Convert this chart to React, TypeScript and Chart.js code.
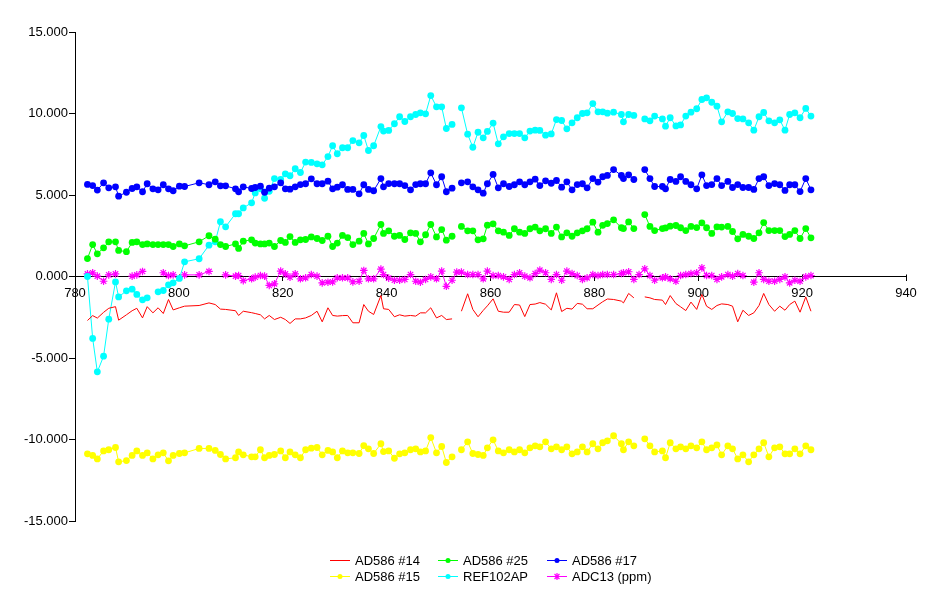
import React, { useEffect, useRef } from 'react';
import { Chart, registerables } from 'chart.js';

Chart.register(...registerables);

// Wavelength (x) positions shared by all series
const WAVELENGTH: number[] = [
  782.4, 783.4, 784.3, 785.5, 786.5, 787.8, 788.4, 789.9, 791.0, 791.9,
  793.0, 793.9, 795.0, 796.0, 797.0, 798.0, 798.9, 800.1, 801.1, 803.9,
  805.8, 807.0, 808.0, 809.0, 810.9, 811.5, 812.4, 814.0, 814.7, 815.7,
  816.5, 817.4, 818.4, 819.6, 820.5, 821.4, 822.4, 823.4, 824.4, 825.5,
  826.6, 827.6, 828.7, 829.6, 830.5, 831.5, 832.5, 833.5, 834.7, 835.6,
  836.5, 837.5, 838.9, 839.4, 840.4, 841.5, 842.5, 843.5, 844.6, 845.6,
  846.5, 847.5, 848.5, 849.6, 850.6, 851.5, 852.6, 853.5, 854.4, 855.6,
  856.6, 857.6, 858.6, 859.4, 860.5, 861.5, 862.5, 863.6, 864.6, 865.6,
  866.6, 867.6, 868.6, 869.5, 870.6, 871.7, 872.7, 873.7, 874.7, 875.7,
  876.7, 877.7, 878.6, 879.7, 880.7, 881.6, 882.5, 883.7, 885.2, 885.6,
  886.6, 887.6, 888.6, 889.7, 890.7, 891.6, 893.1, 893.7, 894.6, 895.7,
  896.6, 897.6, 898.6, 899.7, 900.7, 901.6, 902.6, 903.6, 904.5, 905.7,
  906.6, 907.6, 908.6, 909.7, 910.7, 911.7, 912.6, 913.6, 914.7, 915.7,
  916.7, 917.6, 918.6, 919.6, 920.7, 921.7,
];

const AD586_14: (number | null)[] = [
  -2.7, -2.4, -2.55, -2.2, -1.95, -1.85, -2.68, -2.35, -2.1, -1.95,
  -2.54, -1.85, -2.23, -1.92, -2.27, -1.41, -2.05, -1.92, -1.82, -1.78,
  -1.62, -1.72, -2.0, -2.02, -2.1, -2.39, -2.13, -2.22, -2.27, -2.35,
  -2.6, -2.39, -2.64, -2.5, -2.64, -2.88, -2.6, -2.6, -2.54, -2.39,
  -2.13, -2.78, -1.92, -2.39, -2.43, -2.4, -2.39, -2.84, -2.84, -1.72,
  -2.13, -2.33, -1.17, -1.98, -2.02, -2.47, -2.35, -2.43, -2.39, -2.43,
  -2.23, -2.23, -1.92, -2.54, -2.39, -2.64, -2.6, null, -2.13, -1.06,
  -2.02, -2.47, -2.08, -1.8, -1.37, -2.13, -2.19, -2.19, -1.72, -1.75,
  -2.46, -1.72, -1.69, -1.6, -1.7, -2.05, -1.0, -2.15, -1.95, -2.0,
  -1.65, -1.7, -1.98, -1.98, -1.75, -1.55, -1.38, -1.41, -1.51, -1.62,
  -1.04, -1.31, null, -1.25, -1.31, -1.41, -1.45, -1.72, -1.17, -1.66,
  -1.86, -2.09, -1.57, -2.02, -1.1, -1.82, -2.02, -1.78, -1.68, -1.72,
  -1.82, -2.78, -2.07, -2.39, -2.23, -1.78, -1.04, -1.72, -2.13, -1.82,
  -2.07, -1.72, -1.51, -2.19, -1.25, -2.13,
];

const AD586_25: (number | null)[] = [
  1.1, 1.96, 1.39, 1.76, 2.13, 2.13, 1.6, 1.52, 2.09, 2.13,
  1.96, 2.0, 1.96, 1.96, 1.96, 1.96, 1.84, 2.0, 1.88, 2.13,
  2.5, 2.29, 1.96, 1.84, 2.0, 1.72, 2.17, 2.25, 2.05, 2.0,
  2.0, 2.05, 1.84, 2.21, 2.09, 2.45, 2.09, 2.25, 2.27, 2.43,
  2.33, 2.21, 2.47, 1.84, 2.05, 2.52, 2.39, 1.96, 2.17, 2.64,
  2.0, 2.33, 3.19, 2.64, 2.8, 2.47, 2.52, 2.27, 2.68, 2.64,
  2.13, 2.56, 3.19, 2.43, 2.88, 2.23, 2.47, null, 3.07, 2.8,
  2.8, 2.25, 2.31, 3.15, 3.23, 2.8, 2.72, 2.52, 2.93, 2.72,
  2.64, 2.93, 3.03, 2.8, 2.93, 2.64, 3.03, 2.43, 2.68, 2.47,
  2.68, 2.8, 2.93, 3.33, 2.72, 3.14, 3.25, 3.48, 2.99, 2.94,
  3.35, 2.94, null, 3.8, 3.07, 2.82, 2.94, 2.98, 3.09, 3.13,
  2.99, 2.82, 3.07, 3.0, 3.29, 2.99, 2.64, 3.05, 3.03, 3.07,
  2.76, 2.31, 2.58, 2.47, 2.33, 2.68, 3.31, 2.82, 2.82, 2.82,
  2.45, 2.58, 2.82, 2.33, 2.94, 2.37,
];

const AD586_17: (number | null)[] = [
  5.65, 5.58, 5.3, 5.75, 5.44, 5.5, 4.93, 5.17, 5.4, 5.5,
  5.2, 5.69, 5.38, 5.32, 5.63, 5.38, 5.26, 5.54, 5.52, 5.75,
  5.63, 5.81, 5.56, 5.56, 5.38, 5.2, 5.5, 5.4, 5.46, 5.54,
  5.17, 5.42, 5.5, 5.75, 5.38, 5.36, 5.5, 5.64, 5.69, 5.99,
  5.69, 5.69, 5.85, 5.38, 5.48, 5.63, 5.34, 5.34, 5.07, 5.63,
  5.34, 5.26, 6.01, 5.5, 5.7, 5.69, 5.69, 5.58, 5.32, 5.64,
  5.69, 5.69, 6.36, 5.63, 6.12, 5.2, 5.42, null, 5.75, 5.81,
  5.5, 5.32, 5.11, 5.69, 6.26, 5.44, 5.69, 5.52, 5.63, 5.81,
  5.63, 5.81, 5.97, 5.58, 5.87, 5.72, 5.89, 5.48, 5.81, 5.32,
  5.64, 5.69, 5.44, 6.01, 5.79, 6.12, 6.2, 6.56, 6.2, 6.01,
  6.24, 5.95, null, 6.56, 6.01, 5.52, 5.52, 5.38, 5.95, 5.83,
  6.12, 5.83, 5.63, 5.38, 6.24, 5.58, 5.64, 6.01, 5.58, 5.83,
  5.46, 5.64, 5.46, 5.46, 5.34, 6.01, 6.12, 5.58, 5.7, 5.63,
  5.28, 5.63, 5.63, 5.21, 6.01, 5.32,
];

const AD586_15: (number | null)[] = [
  -10.88, -10.98, -11.19, -10.7, -10.63, -10.49, -11.37, -11.29, -10.98, -10.7,
  -10.98, -10.82, -11.19, -10.94, -10.82, -11.31, -10.98, -10.86, -10.82, -10.55,
  -10.55, -10.67, -10.92, -11.19, -11.12, -10.76, -10.94, -11.06, -11.06, -10.63,
  -11.12, -10.98, -10.92, -10.7, -11.12, -10.76, -10.94, -11.12, -10.63, -10.53,
  -10.49, -10.94, -10.67, -10.76, -11.12, -10.7, -10.82, -10.82, -10.86, -10.37,
  -10.57, -10.86, -10.26, -10.74, -10.7, -11.15, -10.88, -10.82, -10.63, -10.57,
  -10.76, -10.7, -9.88, -10.82, -10.43, -11.41, -11.06, null, -10.63, -10.14,
  -10.86, -10.92, -10.98, -10.51, -10.02, -10.7, -10.82, -10.63, -10.76, -10.63,
  -10.82, -10.51, -10.39, -10.45, -10.14, -10.57, -10.45, -10.63, -10.45, -10.88,
  -10.76, -10.45, -10.76, -10.26, -10.57, -10.2, -10.08, -9.77, -10.26, -10.63,
  -10.14, -10.39, null, -9.96, -10.39, -10.76, -10.7, -11.12, -10.2, -10.57,
  -10.45, -10.57, -10.39, -10.51, -10.14, -10.63, -10.51, -10.33, -10.94, -10.39,
  -10.57, -11.19, -10.94, -11.37, -10.94, -10.57, -10.2, -11.06, -10.51, -10.45,
  -10.88, -10.88, -10.57, -10.88, -10.39, -10.63,
];

const REF102AP: (number | null)[] = [
  0.0, -3.8, -5.85, -4.89, -2.62, -0.33, -1.25, -0.88, -0.78, -1.1,
  -1.43, -1.31, null, -0.94, -0.86, -0.51, -0.39, -0.12, 0.9, 1.09,
  1.92, 2.13, 3.36, 3.05, 3.85, 3.85, 4.21, 4.52, 5.13, 5.38,
  4.8, 5.23, 6.01, 5.95, 6.3, 6.18, 6.61, 6.38, 7.02, 7.0,
  6.91, 6.85, 7.36, 8.02, 7.53, 7.9, 7.9, 8.34, 8.2, 8.65,
  7.73, 8.02, 9.2, 8.92, 8.96, 9.37, 9.8, 9.51, 9.8, 9.94,
  10.04, 9.98, 11.1, 10.41, 10.41, 9.08, 9.33, null, 10.35, 8.73,
  7.93, 8.85, 8.51, 8.9, 9.41, 8.14, 8.57, 8.77, 8.77, 8.77,
  8.51, 8.92, 8.98, 8.96, 8.67, 8.75, 9.63, 9.57, 9.06, 9.43,
  9.74, 10.0, 10.04, 10.61, 10.1, 10.1, 10.02, 10.08, 9.94, 9.49,
  9.94, 9.88, null, 9.67, 9.55, 9.84, 9.67, 9.22, 9.74, 9.24,
  9.3, 9.84, 10.08, 10.29, 10.86, 10.96, 10.69, 10.45, 9.49, 10.1,
  10.0, 9.69, 9.67, 9.43, 8.98, 9.8, 10.06, 9.55, 9.43, 9.61,
  8.98, 9.94, 10.04, 9.74, 10.31, 9.84,
];

const ADC13_PPM: (number | null)[] = [
  0.16, 0.23, 0.02, -0.29, 0.1, 0.16, null, null, 0.02, 0.1,
  0.31, null, null, null, 0.23, 0.06, 0.1, null, 0.1, 0.1,
  0.31, null, null, 0.1, 0.02, 0.06, -0.25, -0.14, -0.04, 0.06,
  0.02, -0.55, -0.45, 0.33, 0.16, -0.04, 0.16, -0.14, -0.08, 0.12,
  0.02, -0.39, -0.35, -0.33, -0.08, -0.08, -0.08, -0.33, -0.29, 0.37,
  -0.14, -0.14, 0.45, 0.12, -0.1, -0.23, -0.23, -0.18, 0.12, -0.29,
  -0.35, -0.18, -0.02, -0.14, 0.33, -0.6, -0.23, 0.27, 0.27, 0.12,
  0.12, 0.12, -0.14, 0.33, 0.06, 0.06, -0.02, -0.18, 0.12, 0.23,
  0.02, -0.08, 0.18, 0.39, 0.23, -0.18, 0.12, -0.23, 0.33, 0.18,
  0.06, -0.18, -0.08, 0.12, 0.06, 0.12, 0.12, 0.12, 0.18, 0.23,
  0.29, -0.18, 0.12, 0.47, 0.06, -0.23, -0.08, -0.02, -0.14, -0.29,
  0.06, 0.12, 0.18, 0.23, 0.53, 0.06, 0.06, -0.18, -0.02, 0.12,
  0.02, 0.18, 0.06, null, -0.35, 0.23, -0.18, -0.29, -0.29, -0.18,
  -0.02, -0.39, -0.23, -0.29, -0.02, 0.06,
];

const SERIES_LABELS = ['AD586 #14', 'AD586 #25', 'AD586 #17', 'AD586 #15', 'REF102AP', 'ADC13 (ppm)'];
const SERIES_COLORS = ['#FF0000', '#00FF00', '#0000FF', '#FFFF00', '#00FFFF', '#FF00FF'];
const SERIES_MARKERS = ['none', 'circle', 'circle', 'circle', 'circle', 'star'];
const SERIES_VALUES = [AD586_14, AD586_25, AD586_17, AD586_15, REF102AP, ADC13_PPM];

const X_MIN = 780;
const X_MAX = 940;
const X_STEP = 20;
const Y_MIN = -15;
const Y_MAX = 15;
const Y_STEP = 5;

const FONT = 'Arial, "Liberation Sans", sans-serif';

function drawMarker(ctx: CanvasRenderingContext2D, kind: string, x: number, y: number, color: string, r: number) {
  if (kind === 'circle') {
    ctx.fillStyle = color;
    ctx.beginPath();
    ctx.arc(x, y, r, 0, Math.PI * 2);
    ctx.fill();
  } else if (kind === 'star') {
    ctx.strokeStyle = color;
    ctx.lineWidth = 1.2;
    ctx.beginPath();
    ctx.moveTo(x - r, y); ctx.lineTo(x + r, y);
    ctx.moveTo(x, y - r); ctx.lineTo(x, y + r);
    const d = r * 0.707;
    ctx.moveTo(x - d, y - d); ctx.lineTo(x + d, y + d);
    ctx.moveTo(x - d, y + d); ctx.lineTo(x + d, y - d);
    ctx.stroke();
  }
}

const gridLegend = {
  id: 'gridLegend',
  afterDraw(chart: any) {
    const { ctx, chartArea } = chart;
    const cx = (chartArea.left + chartArea.right) / 2;
    const startX = Math.round(cx - 160.5);
    const colW = 108.3;
    const rows = [chartArea.bottom + 39.5, chartArea.bottom + 55.5];
    ctx.save();
    ctx.font = `13px ${FONT}`;
    ctx.textBaseline = 'middle';
    ctx.textAlign = 'left';
    SERIES_LABELS.forEach((label, i) => {
      const col = i % 3;
      const row = Math.floor(i / 3);
      const x = Math.round(startX + col * colW);
      const y = rows[row];
      ctx.strokeStyle = SERIES_COLORS[i];
      ctx.lineWidth = 1;
      ctx.beginPath();
      ctx.moveTo(x, y);
      ctx.lineTo(x + 20, y);
      ctx.stroke();
      drawMarker(ctx, SERIES_MARKERS[i], x + 10, y, SERIES_COLORS[i], SERIES_MARKERS[i] === 'star' ? 3.5 : 2.5);
      ctx.fillStyle = '#000';
      ctx.fillText(label, x + 25, y + 1);
    });
    ctx.restore();
  },
};

const crossTicks = {
  id: 'crossTicks',
  beforeDatasetsDraw(chart: any) {
    const { ctx } = chart;
    const xs = chart.scales.x;
    const ys = chart.scales.y;
    const y0 = Math.round(ys.getPixelForValue(0)) + 0.5;
    ctx.save();
    ctx.strokeStyle = '#000';
    ctx.lineWidth = 1;
    ctx.beginPath();
    for (let v = X_MIN; v <= X_MAX; v += X_STEP) {
      const px = Math.round(xs.getPixelForValue(v)) + 0.5;
      ctx.moveTo(px, y0 - 3);
      ctx.lineTo(px, y0);
    }
    ctx.stroke();
    ctx.restore();
  },
};

export default function App() {
  const canvasRef = useRef<HTMLCanvasElement | null>(null);

  useEffect(() => {
    const canvas = canvasRef.current;
    if (!canvas) return;
    const datasets = SERIES_LABELS.map((label, i) => {
      const marker = SERIES_MARKERS[i];
      return {
        label,
        data: WAVELENGTH.map((x, j) => ({ x, y: SERIES_VALUES[i][j] })),
        borderColor: SERIES_COLORS[i],
        backgroundColor: SERIES_COLORS[i],
        borderWidth: 1,
        pointStyle: marker === 'star' ? 'star' : 'circle',
        pointRadius: marker === 'none' ? 0 : marker === 'star' ? 3.8 : 3.4,
        pointBorderWidth: marker === 'star' ? 1.2 : 0,
        pointBorderColor: SERIES_COLORS[i],
        pointBackgroundColor: SERIES_COLORS[i],
        fill: false,
        tension: 0,
        spanGaps: false,
      };
    });

    const chart = new Chart(canvas, {
      type: 'line',
      data: { datasets },
      plugins: [crossTicks, gridLegend],
      options: {
        animation: false,
        responsive: false,
        devicePixelRatio: 1,
        layout: { padding: { left: 0, top: 32, right: 19, bottom: 76 } },
        plugins: {
          legend: { display: false },
          tooltip: { enabled: false },
        },
        scales: {
          x: {
            type: 'linear',
            position: { y: 0 },
            min: X_MIN,
            max: X_MAX,
            afterFit: (scale: any) => { scale.height = 0; },
            ticks: {
              stepSize: X_STEP,
              color: '#000',
              font: { family: FONT, size: 13 },
              padding: 5,
              maxRotation: 0,
              callback: (v: any) => String(v),
            },
            grid: {
              drawOnChartArea: false,
              drawTicks: true,
              tickLength: 4,
              tickColor: '#000',
            },
            border: { display: true, color: '#000', width: 1 },
          },
          y: {
            type: 'linear',
            position: 'left',
            min: Y_MIN,
            max: Y_MAX,
            afterFit: (scale: any) => { scale.width = 75; },
            ticks: {
              stepSize: Y_STEP,
              color: '#000',
              font: { family: FONT, size: 13 },
              padding: 1,
              callback: (v: any) => Number(v).toFixed(3),
            },
            grid: {
              drawOnChartArea: false,
              drawTicks: true,
              tickLength: 6,
              tickColor: '#000',
            },
            border: { display: true, color: '#000', width: 1 },
          },
        },
      },
    } as any);
    return () => chart.destroy();
  }, []);

  return (
    <div style={{ position: 'fixed', left: 0, top: 0, width: 925, height: 597, background: '#fff' }}>
      <canvas ref={canvasRef} width={925} height={597} style={{ display: 'block' }} />
    </div>
  );
}
